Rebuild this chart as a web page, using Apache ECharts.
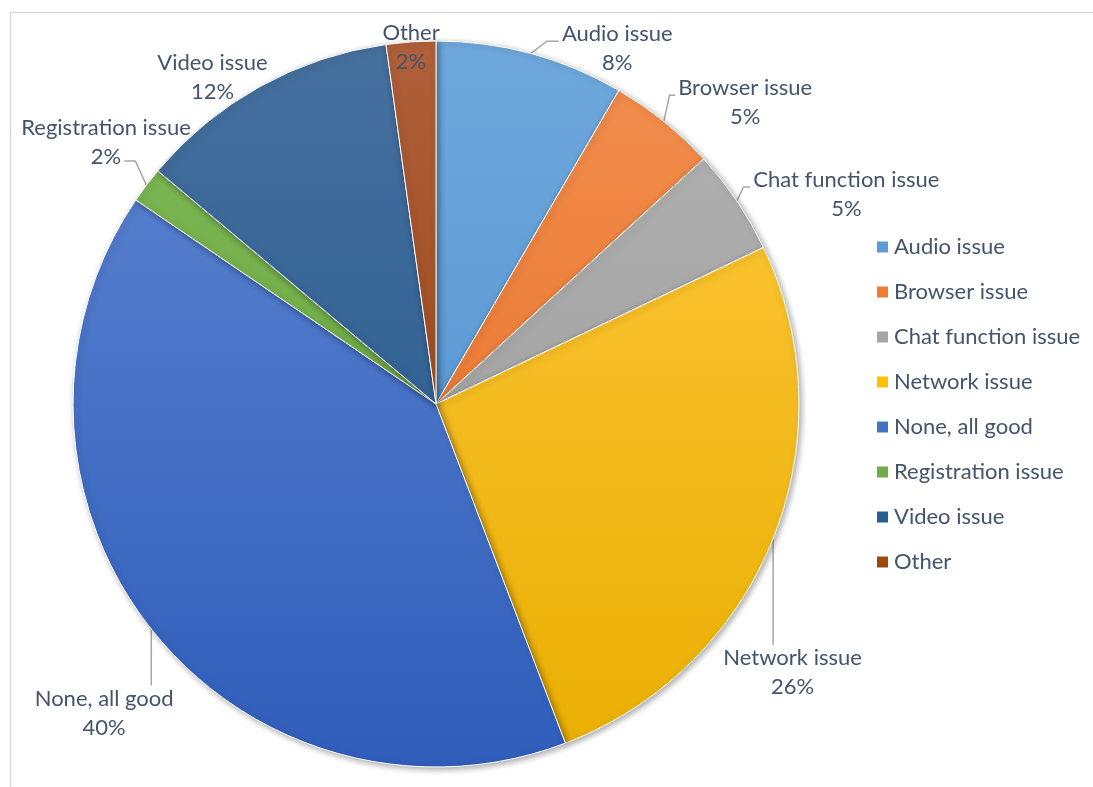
<!DOCTYPE html>
<html>
<head>
<meta charset="utf-8">
<script src="https://cdn.jsdelivr.net/npm/echarts@6/dist/echarts.min.js"></script>
<style>
html,body{margin:0;padding:0;background:#fff;}
#chart{width:1093px;height:787px;}
</style>
</head>
<body>
<div id="chart"></div>
<script>
const categories = ['Audio issue','Browser issue','Chat function issue','Network issue','None, all good','Registration issue','Video issue','Other'];
const values = [8.4, 4.8, 4.7, 26.3, 40.3, 1.6, 11.7, 2.2];
const baseColors = ['#5B9BD5','#ED7D31','#A5A5A5','#FFC000','#4472C4','#70AD47','#255E91','#9E480E'];
const topColors  = ['#6FA8DC','#F28E4F','#B3B3B3','#FFC940','#5F86D2','#7FBA57','#46709E','#B0603A'];
const bottomColors=['#4A8ACB','#E46C1D','#969696','#E9AE00','#2F5DBA','#5E9C37','#1E548A','#8E3C06'];
// label placement (Excel "best fit" style): angle clockwise from top in degrees, distance as fraction of radius
const labelAngle = [27, 45.7, 62.9, 127, 227, 308.4, 325.6, 356];
const labelDist  = [1.10, 1.19, 1.27, 1.23, 1.25, 1.16, 1.09, 0.985];
const showLeader = [true, true, true, true, true, true, false, false];

const FONT = 'Lato, "Noto Sans", sans-serif';
const FS = 22, LH = 29;
const chart = echarts.init(document.getElementById('chart'));
const cx = 436, cy = 404, R = 363;

const mctx = document.createElement('canvas').getContext('2d');
mctx.font = FS + 'px ' + FONT;
function labelText(name, pct){ return [name, Math.round(pct) + '%']; }

const data = categories.map((c,i)=>({
  name:c, value:values[i],
  labelLine:{show:showLeader[i]},
  itemStyle:{
    color:new echarts.graphic.LinearGradient(0, cy-R, 0, cy+R, [
      {offset:0,color:topColors[i]},{offset:1,color:bottomColors[i]}], true)
  }
}));

function leaderPoints(p, lx, ly){
  const s = p.labelLinePoints ? p.labelLinePoints[0] : null;
  if (!s) return undefined;
  const w = p.labelRect.width, h = p.labelRect.height;
  const lines = p.text.split('\n');
  let rect, whole = true, lineCy = 0;
  const top = ly - h/2, bottom = ly + h/2;
  if (s[1] > bottom) {
    const lw = mctx.measureText(lines[lines.length-1]).width;
    lineCy = bottom - LH/2;
    rect = {l: lx - lw/2, r: lx + lw/2, t: bottom - LH, b: bottom};
    whole = false;
  } else if (s[1] < top) {
    const lw = mctx.measureText(lines[0]).width;
    lineCy = top + LH/2;
    rect = {l: lx - lw/2, r: lx + lw/2, t: top, b: top + LH};
    whole = false;
  } else {
    rect = {l: lx - w/2, r: lx + w/2, t: top, b: bottom};
  }
  if (s[0] >= rect.l && s[0] <= rect.r) {
    const y = s[1] < rect.t ? rect.t + 1 : rect.b - 1;
    return [s, [s[0], (s[1]+y)/2], [s[0], y]];
  }
  const side = s[0] < rect.l ? -1 : 1;
  const ax = side < 0 ? rect.l - 3 : rect.r + 3;
  const ay = whole ? rect.t + 0.38*h : lineCy + 4;
  const hl = Math.min(12, Math.abs(ax - s[0]) / 2);
  return [s, [ax + side*hl, ay], [ax, ay]];
}

chart.setOption({
  animation:false,
  textStyle:{fontFamily:FONT},
  graphic:[{type:'rect',shape:{x:10.5,y:12.5,width:1200,height:900},style:{fill:'none',stroke:'#d9d9d9',lineWidth:1.5},silent:true,z:-1}],
  legend:{
    orient:'vertical', left:870, top:231,
    itemWidth:13, itemHeight:13, itemGap:23, icon:'rect',
    textStyle:{fontSize:FS,lineHeight:22,color:'#44546a',fontFamily:FONT},
    data:categories.map((c,i)=>({name:c,itemStyle:{color:baseColors[i]}}))
  },
  series:[{
    type:'pie',
    center:[cx,cy], radius:R,
    startAngle:90, clockwise:true,
    itemStyle:{borderColor:'#fff',borderWidth:1,shadowBlur:6,shadowColor:'rgba(0,0,0,0.35)',shadowOffsetX:2,shadowOffsetY:2},
    label:{
      show:true, position:'outside', fontSize:FS, color:'#44546a', lineHeight:LH, align:'center',
      fontFamily:FONT, overflow:'none',
      formatter:p=>labelText(p.name, p.percent).join('\n')
    },
    labelLine:{show:true,length:10,length2:12,lineStyle:{color:'#a6a6a6',width:1.5}},
    labelLayout:function(p){
      const i = p.dataIndex;
      const a = labelAngle[i]*Math.PI/180, d = labelDist[i]*R;
      const lx = cx + d*Math.sin(a), ly = cy - d*Math.cos(a);
      const out = {x: lx, y: ly, align:'center', verticalAlign:'middle'};
      const pts = leaderPoints(p, lx, ly);
      if (pts) out.labelLinePoints = pts;
      return out;
    },
    emphasis:{disabled:true},
    data:data
  }]
});
</script>
</body>
</html>
